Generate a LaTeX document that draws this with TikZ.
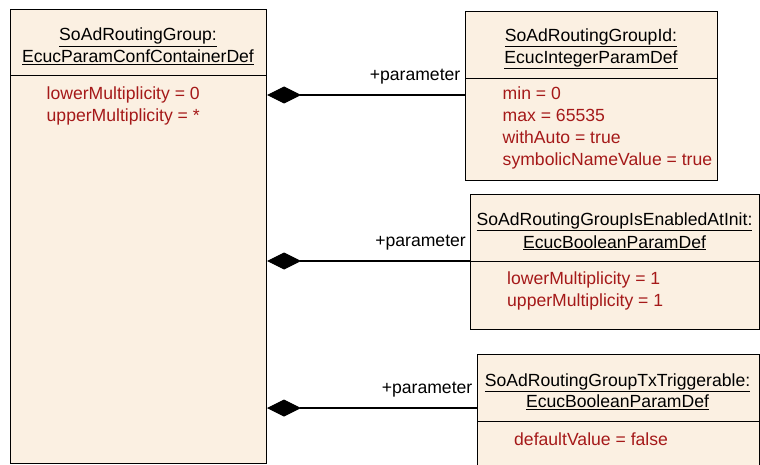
\documentclass[tikz,border=0pt]{standalone}
\usepackage{fontspec}
\setmainfont{Liberation Sans}
\usetikzlibrary{arrows.meta}
\definecolor{boxfill}{RGB}{251,240,226}
\definecolor{attrred}{RGB}{165,25,25}
\tikzset{
  umlbox/.style={draw=black, line width=1pt, fill=boxfill, anchor=north west, inner sep=0pt},
  sepline/.style={draw=black, line width=1pt},
  titletext/.style={anchor=base, inner sep=0pt, font=\fontsize{17.6}{22}\selectfont, text=black},
  attrtext/.style={anchor=base west, inner sep=0pt, font=\fontsize{17.6}{22}\selectfont, text=attrred},
  roletext/.style={anchor=base east, inner sep=0pt, font=\fontsize{17.6}{22}\selectfont, text=black},
  compo/.style={draw=black, line width=1.1pt, {Diamond[length=34pt,width=17pt,fill=black]}-},
}
\begin{document}
\begin{tikzpicture}[x=1pt,y=-1pt]
\clip (0,0) rectangle (760,465);
\fill[white] (0,0) rectangle (760,465);
% container
\node[umlbox, minimum width=256pt, minimum height=454pt] (grp) at (10,9) {};
\draw[sepline] (grp.west |- 0,76) -- (grp.east |- 0,76);
\node[titletext] (grpt1) at (138,41) {\underline{SoAdRoutingGroup:}};
\node[titletext] (grpt2) at (138,63) {\underline{EcucParamConfContainerDef}};
\node[attrtext] (grpa1) at (46.5,99.5) {lowerMultiplicity = 0};
\node[attrtext] (grpa2) at (46.5,121.5) {upperMultiplicity = *};
% box 1
\node[umlbox, minimum width=252pt, minimum height=169pt] (b1) at (465,11) {};
\draw[sepline] (b1.west |- 0,78.5) -- (b1.east |- 0,78.5);
\node[titletext] (b1t1) at (591,41.5) {\underline{SoAdRoutingGroupId:}};
\node[titletext] (b1t2) at (591,63.5) {\underline{EcucIntegerParamDef}};
\node[attrtext] (b1a1) at (502.5,100) {min = 0};
\node[attrtext] (b1a2) at (502.5,122) {max = 65535};
\node[attrtext] (b1a3) at (502.5,144) {withAuto = true};
\node[attrtext] (b1a4) at (502.5,166) {symbolicNameValue = true};
% box 2
\node[umlbox, minimum width=289pt, minimum height=135pt] (b2) at (470,194) {};
\draw[sepline] (b2.west |- 0,261) -- (b2.east |- 0,261);
\node[titletext] (b2t1) at (614.5,225.5) {\underline{SoAdRoutingGroupIsEnabledAtInit:}};
\node[titletext] (b2t2) at (614.5,248) {\underline{EcucBooleanParamDef}};
\node[attrtext] (b2a1) at (507,284) {lowerMultiplicity = 1};
\node[attrtext] (b2a2) at (507,306) {upperMultiplicity = 1};
% box 3
\node[umlbox, minimum width=282pt, minimum height=130pt] (b3) at (477,354) {};
\draw[sepline] (b3.west |- 0,421) -- (b3.east |- 0,421);
\node[titletext] (b3t1) at (617.5,386) {\underline{SoAdRoutingGroupTxTriggerable:}};
\node[titletext] (b3t2) at (617.5,407.5) {\underline{EcucBooleanParamDef}};
\node[attrtext] (b3a1) at (514,445) {defaultValue = false};
% connectors
\draw[compo] (grp.east |- 0,95) -- (b1.west |- 0,95);
\draw[compo] (grp.east |- 0,261) -- (b2.west |- 0,261);
\draw[compo] (grp.east |- 0,408) -- (b3.west |- 0,408);
\node[roletext] (r1) at (460.5,80.5) {+parameter};
\node[roletext] (r2) at (466,246) {+parameter};
\node[roletext] (r3) at (472.5,393) {+parameter};
\end{tikzpicture}
\end{document}
